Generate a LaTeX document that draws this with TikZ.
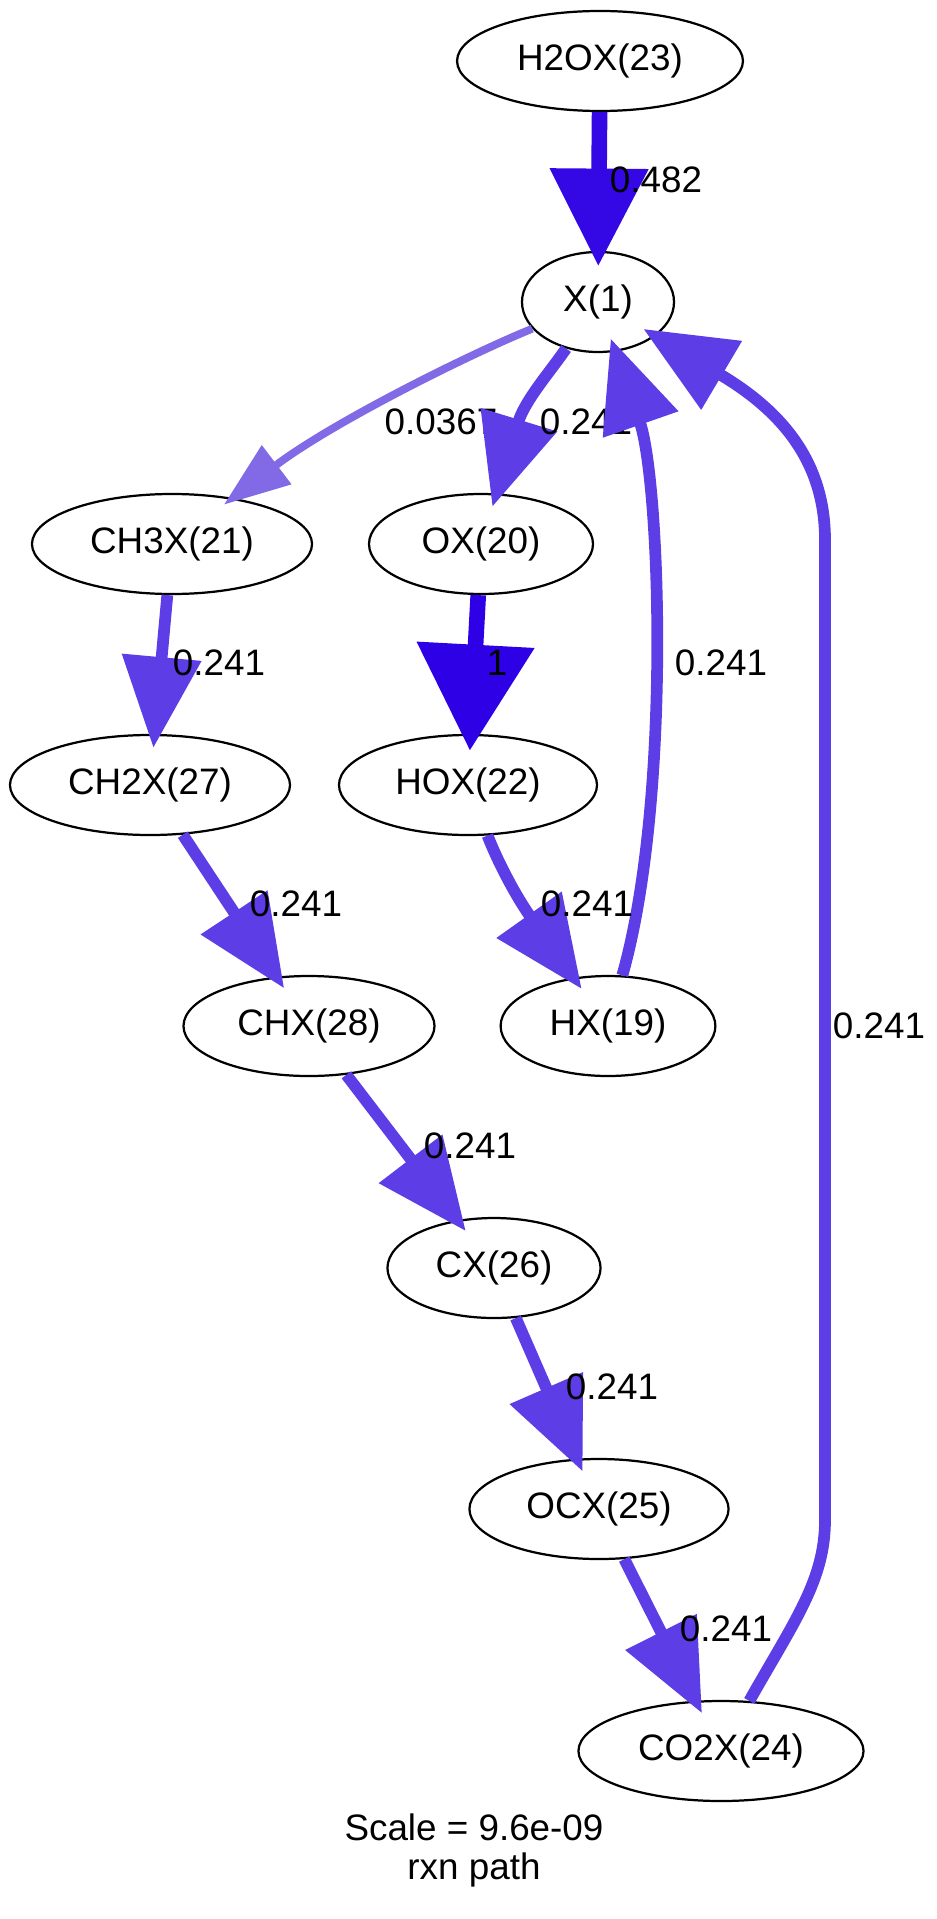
\documentclass[tikz,border=0pt]{standalone}
\usepackage{fontspec}
\setmainfont{Liberation Sans}
\usetikzlibrary{arrows.meta, shapes.geometric}
\definecolor{fluxa}{RGB}{46,0,230}
\definecolor{fluxb}{RGB}{52,8,228}
\definecolor{fluxc}{RGB}{93,62,230}
\definecolor{fluxd}{RGB}{130,106,230}

\begin{document}
\begin{tikzpicture}[x=0.3585pt, y=-0.3585pt, font=\fontsize{13.2pt}{14pt}\selectfont,
    sp/.style={draw, ellipse, line width=0.8pt, inner sep=0pt, minimum height=35.85pt},
    lbl/.style={inner sep=0pt},
    flux1/.style={line width=5.6pt, fluxa, -{Triangle[length=38pt, width=40.9pt]}, shorten >=-6pt},
    flux482/.style={line width=5.6pt, fluxb, -{Triangle[length=35pt, width=34pt]}, shorten >=-5.5pt},
    flux241/.style={line width=4.2pt, fluxc, -{Triangle[length=32.6pt, width=27.6pt]}, shorten >=-5pt},
    flux037/.style={line width=2.8pt, fluxd, -{Triangle[length=23.7pt, width=16.9pt]}, shorten >=-4pt}]
    \useasboundingbox (0,0) rectangle (936,1919);
    % species
    \node[sp, minimum width=102.5pt] (h2ox) at (600,61)   {H2OX(23)};
    \node[sp, minimum width=54.5pt]  (x1)   at (598,302)  {X(1)};
    \node[sp, minimum width=100.4pt] (ch3x) at (172,544)  {CH3X(21)};
    \node[sp, minimum width=80.3pt]  (ox)   at (481,544)  {OX(20)};
    \node[sp, minimum width=100.4pt] (ch2x) at (150,785)  {CH2X(27)};
    \node[sp, minimum width=92.5pt]  (hox)  at (468,785)  {HOX(22)};
    \node[sp, minimum width=90pt]    (chx)  at (309,1026) {CHX(28)};
    \node[sp, minimum width=77pt]    (hx)   at (608,1026) {HX(19)};
    \node[sp, minimum width=76.4pt]  (cx)   at (494,1268) {CX(26)};
    \node[sp, minimum width=92.9pt]  (ocx)  at (599,1509) {OCX(25)};
    \node[sp, minimum width=102.2pt] (co2x) at (721,1751) {CO2X(24)};
    % fluxes
    \draw[flux482] (h2ox) -- (x1);
    \node[lbl] at (656,180) {0.482};
    \draw[flux037] (x1) .. controls (470,354) and (333,422) .. (ch3x);
    \node[lbl] at (441,422) {0.0367};
    \draw[flux241] (x1) .. controls (550,372) and (525,400) .. (ox);
    \node[lbl] at (586,422) {0.241};
    \draw[flux241] (ch3x) -- (ch2x);
    \node[lbl] at (219,663) {0.241};
    \draw[flux1] (ox) -- (hox);
    \node[lbl] at (497,663) {1};
    \draw[flux241] (hx) .. controls (672,800) and (660,480) .. (x1);
    \node[lbl] at (721,663) {0.241};
    \draw[flux241] (co2x) .. controls (795,1620) and (825,1580) .. (825,1520) -- (825,540) .. controls (825,460) and (780,410) .. (x1);
    \node[lbl] at (879,1026) {0.241};
    \draw[flux241] (ch2x) -- (chx);
    \node[lbl] at (296,904) {0.241};
    \draw[flux241] (hox) .. controls (497,860) and (515,895) .. (hx);
    \node[lbl] at (587,904) {0.241};
    \draw[flux241] (chx) -- (cx);
    \node[lbl] at (470,1146) {0.241};
    \draw[flux241] (cx) -- (ocx);
    \node[lbl] at (612,1387) {0.241};
    \draw[flux241] (ocx) -- (co2x);
    \node[lbl] at (726,1629) {0.241};
    \node[lbl, align=center] (cap) at (474,1850) {Scale = 9.6e-09\\rxn path};
\end{tikzpicture}
\end{document}
